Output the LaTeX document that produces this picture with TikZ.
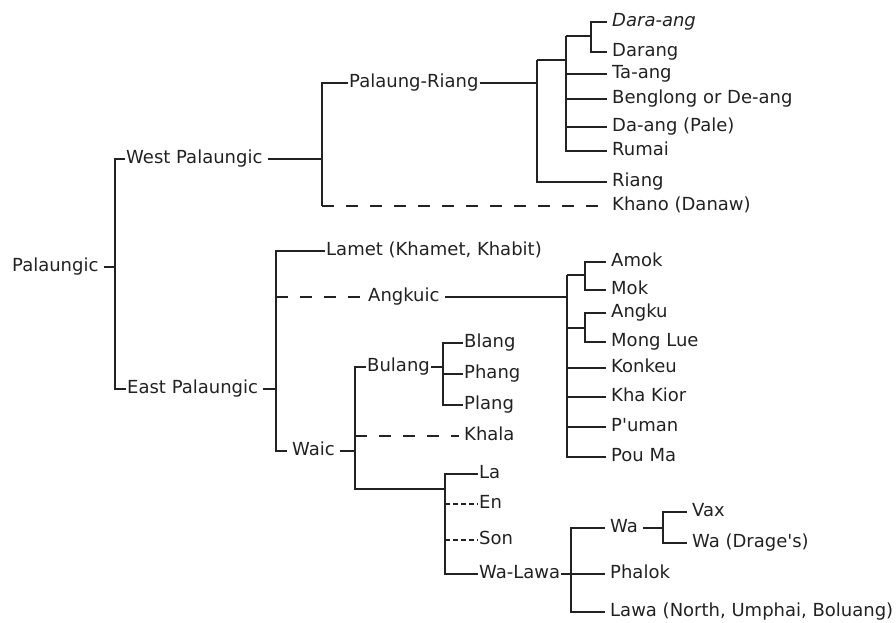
\documentclass[tikz,border=0pt]{standalone}
\usepackage{fontspec}
\setmainfont{DejaVu Sans}[Ligatures=TeXOff]
\definecolor{ink}{HTML}{222222}
\begin{document}
\begin{tikzpicture}[x=1pt,y=-1pt,
  lbl/.style={anchor=west, inner sep=0pt, inner xsep=1pt, text height=9.8pt, text depth=0pt,
    font=\fontsize{18}{21}\selectfont, text=ink},
  ln/.style={draw=ink, line width=1.3pt},
  bold/.style={ln, line width=2pt},
  dsh/.style={ln, dash pattern=on 12pt off 12pt},
  fdsh/.style={ln, dash pattern=on 5pt off 3pt},
  gb/.style={shorten >=4pt, shorten <=4pt},
  ge/.style={shorten >=4pt},
  gs/.style={shorten <=4pt}]
\useasboundingbox (0,0) rectangle (896,623);
% ---- labels ----
\node[lbl] (pal)    at (11,267)  {Palaungic};
\node[lbl] (wp)     at (125,159) {West Palaungic};
\node[lbl] (ep)     at (126,389) {East Palaungic};
\node[lbl] (pr)     at (348,83)  {Palaung-Riang};
\node[lbl] (dara)   at (611,22)  {\itshape Dara-ang};
\node[lbl] (darang) at (611,52)  {Darang};
\node[lbl] (taang)  at (611,74)  {Ta-ang};
\node[lbl] (beng)   at (611,99)  {Benglong or De-ang};
\node[lbl] (daang)  at (611,127) {Da-ang (Pale)};
\node[lbl] (rumai)  at (611,151) {Rumai};
\node[lbl] (riang)  at (611,182) {Riang};
\node[lbl] (khano)  at (611,206) {Khano (Danaw)};
\node[lbl] (lamet)  at (325,251) {Lamet (Khamet, Khabit)};
\node[lbl] (angk)   at (367,297) {Angkuic};
\node[lbl] (amok)   at (610,262) {Amok};
\node[lbl] (mok)    at (610,290) {Mok};
\node[lbl] (angku)  at (610,313) {Angku};
\node[lbl] (mlue)   at (610,342) {Mong Lue};
\node[lbl] (konk)   at (610,368) {Konkeu};
\node[lbl] (kk)     at (610,397) {Kha Kior};
\node[lbl] (pum)    at (610,427) {P'uman};
\node[lbl] (poum)   at (610,457) {Pou Ma};
\node[lbl] (waic)   at (291,451) {Waic};
\node[lbl] (bulang) at (366,367) {Bulang};
\node[lbl] (blang)  at (463,343) {Blang};
\node[lbl] (phang)  at (463,374) {Phang};
\node[lbl] (plang)  at (463,405) {Plang};
\node[lbl] (khala)  at (463,436) {Khala};
\node[lbl] (la)     at (478,474) {La};
\node[lbl] (en)     at (478,504) {En};
\node[lbl] (son)    at (478,540) {Son};
\node[lbl] (wl)     at (478,574) {Wa-Lawa};
\node[lbl] (wa)     at (609,528) {Wa};
\node[lbl] (phalok) at (609,574) {Phalok};
\node[lbl] (lawa)   at (609,612) {Lawa (North, Umphai, Boluang)};
\node[lbl] (vax)    at (691,512) {Vax};
\node[lbl] (wadr)   at (691,543) {Wa (Drage's)};
% ---- junctions ----
\coordinate (j0)   at (115,267);
\coordinate (jw)   at (322,159);
\coordinate (jk)   at (322,206);
\coordinate (jpr)  at (537,83);
\coordinate (jpr2) at (537,60);
\coordinate (jd)   at (566,60);
\coordinate (jd2)  at (566,36);
\coordinate (jdd)  at (591,36);
\coordinate (je)   at (276,389);
\coordinate (ja)   at (567,297);
\coordinate (ja1)  at (567,275);
\coordinate (ja2)  at (567,328);
\coordinate (jam)  at (585,275);
\coordinate (jan)  at (585,328);
\coordinate (jwc)  at (355,451);
\coordinate (jwb)  at (355,489);
\coordinate (jla)  at (445,489);
\coordinate (jb)   at (443,367);
\coordinate (jwl)  at (571,574);
\coordinate (jwa)  at (663,528);
% ---- connectors ----
\draw[ln,gs] (pal.east) -- (j0);
\draw[ln] (wp.west) -| (j0) |- (ep.west);
% West
\draw[ln,gs] (wp.east) -- (jw);
\draw[ln] (pr.west) -| (jk);
\draw[dsh,ge] (jk) -- (khano.west);
\draw[ln] (pr.east) -- (jpr);
\draw[ln,ge] (jpr2) |- (riang.west);
\draw[ln] (jpr2) -- (jd);
\draw[ln,ge] (jd2) |- (rumai.west);
\draw[bold,ge] (taang.west -| jd) -- (taang.west);
\draw[ln,ge] (beng.west -| jd) -- (beng.west);
\draw[ln,ge] (daang.west -| jd) -- (daang.west);
\draw[ln] (jd2) -- (jdd);
\draw[ln,gb] (dara.west) -| (jdd) |- (darang.west);
% East
\draw[ln,gs] (ep.east) -- (je);
\draw[ln,ge] (lamet.west) -| (je) |- (waic.west);
\draw[dsh,ge] (je |- angk.west) -- (angk.west);
\draw[ln,gs] (angk.east) -- (ja);
\draw[ln,ge] (ja1) |- (poum.west);
\draw[ln,ge] (konk.west -| ja1) -- (konk.west);
\draw[ln,ge] (kk.west -| ja1) -- (kk.west);
\draw[ln,ge] (pum.west -| ja1) -- (pum.west);
\draw[ln] (ja1) -- (jam);
\draw[ln,gb] (amok.west) -| (jam) |- (mok.west);
\draw[ln] (ja2) -- (jan);
\draw[ln,gb] (angku.west) -| (jan) |- (mlue.west);
% Waic
\draw[ln,gs] (waic.east) -- (jwc);
\draw[ln] (bulang.west) -| (jwb) -- (jla);
\draw[dsh,ge] (jwb |- khala.west) -- (khala.west);
\draw[ln] (bulang.east) -- (jb);
\draw[ln] (blang.west) -| (jb) |- (plang.west);
\draw[ln] (phang.west -| jb) -- (phang.west);
\draw[ln] (la.west) -| (jla) |- (wl.west);
\draw[bold] (la.west -| jla) -- (la.west);
\draw[fdsh] (en.west -| jla) -- (en.west);
\draw[fdsh] (son.west -| jla) -- (son.west);
% Wa-Lawa
\draw[ln] (wl.east) -- (jwl);
\draw[ln,gb] (wa.west) -| (jwl) |- (lawa.west);
\draw[ln,ge] (jwl) -- (phalok.west);
\draw[ln,gs] (wa.east) -- (jwa);
\draw[ln,gb] (vax.west) -| (jwa) |- (wadr.west);
\end{tikzpicture}
\end{document}
